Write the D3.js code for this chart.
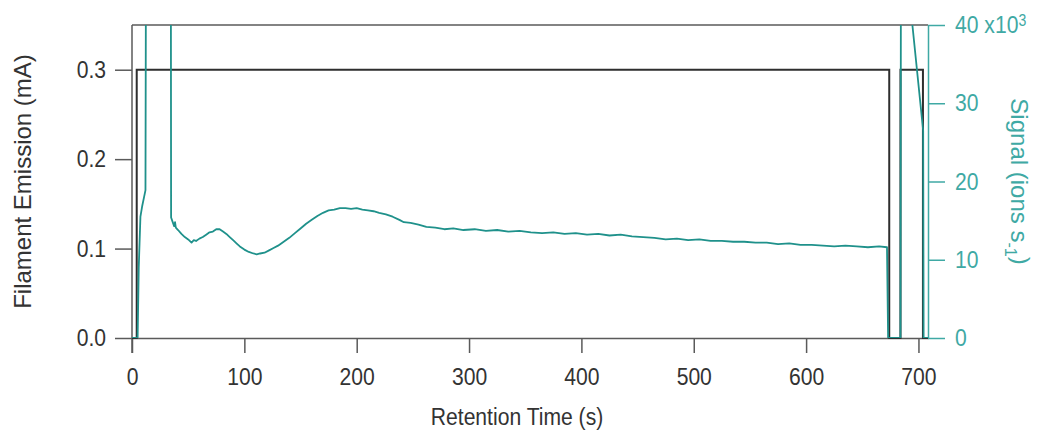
<!DOCTYPE html>
<html>
<head>
<meta charset="utf-8">
<script src="https://cdn.jsdelivr.net/npm/d3@7"></script>
<style>
  body { margin: 0; background: #fff; }
  text { font-family: "Liberation Sans", Arial, sans-serif; }
</style>
</head>
<body>
<div id="chart-area"></div>
<script>
// Filament emission (mA) step trace
const emitTime = [0, 4.2, 4.2, 674, 674, 684, 684, 704, 704, 708.5]
const emitValue = [0, 0, 0.3, 0.3, 0, 0, 0.3, 0.3, 0, 0]

// Signal trace (x10^3 ions/s), values above 40 run off the top
const sigTime = [0, 5, 6, 7.5, 9, 11, 12, 12.6, 34.5, 34.8, 36, 37.5, 38.3, 39, 41, 44, 47, 50, 53, 55, 57,
  60, 63, 66, 69, 72, 75, 78, 81, 84, 87, 90, 93, 96, 100, 104, 108, 111, 114, 118, 122, 126, 130,
  135, 140, 145, 150, 155, 160, 165, 170, 175, 180, 185, 190, 195, 200, 205, 210, 215, 220, 226,
  232, 238, 242, 248, 255, 262, 270, 278, 286, 295, 305, 315, 325, 335, 345, 355, 365, 375, 385,
  395, 405, 415, 425, 435, 445, 455, 465, 475, 485, 495, 505, 515, 525, 535, 545, 555, 565, 575,
  585, 595, 605, 615, 625, 635, 645, 655, 665, 672, 673, 684, 684.5, 690, 694.6, 704.2, 704.6, 708.5]
const sigValue = [0, 0, 9, 15.5, 16.8, 18.2, 18.9, 60, 60, 15.4, 14.9, 14.3, 14.8, 14.1, 13.8, 13.3, 12.9, 12.6, 12.2, 12.5, 12.4,
  12.7, 12.9, 13.2, 13.5, 13.6, 13.9, 13.9, 13.6, 13.3, 12.9, 12.5, 12.1, 11.7, 11.3, 11.0, 10.8, 10.7, 10.8, 10.9, 11.2, 11.5, 11.8,
  12.3, 12.8, 13.4, 14.0, 14.6, 15.1, 15.6, 16.0, 16.3, 16.4, 16.6, 16.6, 16.5, 16.6, 16.4, 16.3, 16.2, 16.0, 15.8,
  15.5, 15.1, 14.8, 14.7, 14.5, 14.2, 14.1, 13.9, 14.0, 13.8, 13.9, 13.7, 13.8, 13.6, 13.7, 13.5, 13.4, 13.5, 13.3,
  13.4, 13.2, 13.3, 13.1, 13.2, 13.0, 12.9, 12.8, 12.6, 12.7, 12.5, 12.6, 12.4, 12.4, 12.3, 12.3, 12.2, 12.2, 12.0,
  12.1, 11.9, 11.9, 11.8, 11.7, 11.8, 11.7, 11.6, 11.7, 11.6, 0, 0, 60, 46, 40, 26.5, 0, 0]

const xTicks = [0, 100, 200, 300, 400, 500, 600, 700]
const leftTicks = [0, 0.1, 0.2, 0.3]
const rightTicks = [0, 10, 20, 30, 40]

const W = 1040
const H = 431
const MARGIN = { LEFT: 132, RIGHT: 112, TOP: 25, BOTTOM: 93 }
const WIDTH = W - MARGIN.LEFT - MARGIN.RIGHT
const HEIGHT = H - MARGIN.TOP - MARGIN.BOTTOM
const FONT = 24
const SQUEEZE = 0.88   // reference text is narrow

const AXIS = "#5a5a5a"
const TEAL = "#3fa9a4"
const TEAL_LINE = "#1f918b"
const DARK = "#2e2e2e"

const svg = d3.select("#chart-area").append("svg")
  .attr("width", W)
  .attr("height", H)
const g = svg.append("g")
  .attr("transform", `translate(${MARGIN.LEFT}, ${MARGIN.TOP})`)

// Scales
const x = d3.scaleLinear().domain([0, 708.5]).range([0, WIDTH])
const yLeft = d3.scaleLinear().domain([0, 0.35]).range([HEIGHT, 0])
const yRight = d3.scaleLinear().domain([0, 40]).range([HEIGHT, 0])

g.append("clipPath").attr("id", "plot-clip")
  .append("rect")
  .attr("width", WIDTH)
  .attr("height", HEIGHT)

// top frame
g.append("line")
  .attr("x1", 0).attr("x2", WIDTH)
  .attr("y1", 0).attr("y2", 0)
  .attr("stroke", AXIS)
  .attr("stroke-width", 1.5)

// X Axis
const xAxis = g.append("g")
  .attr("transform", `translate(0, ${HEIGHT})`)
  .call(d3.axisBottom(x)
    .tickValues(xTicks)
    .tickSize(15)
    .tickSizeOuter(0)
    .tickPadding(15))

// Left Y Axis
const yAxis = g.append("g")
  .call(d3.axisLeft(yLeft)
    .tickValues(leftTicks)
    .tickFormat(d3.format(".1f"))
    .tickSize(17)
    .tickSizeOuter(0)
    .tickPadding(9))

// Right Y Axis
const y2Axis = g.append("g")
  .attr("transform", `translate(${WIDTH}, 0)`)
  .call(d3.axisRight(yRight)
    .tickValues(rightTicks)
    .tickSize(17)
    .tickSizeOuter(0)
    .tickPadding(10))

function squeezeText(sel) {
  sel.attr("font-size", FONT + "px")
    .style("font-family", "'Liberation Sans', Arial, sans-serif")
    .attr("x", function() { return (+d3.select(this).attr("x") || 0) / SQUEEZE })
    .attr("transform", `scale(${SQUEEZE}, 1)`)
}

// style axes
;[xAxis, yAxis].forEach(a => {
  a.selectAll("path, line").attr("stroke", AXIS).attr("stroke-width", 1.5)
  a.selectAll("text").attr("fill", "#333").call(squeezeText)
})
yAxis.select(".domain").attr("d", `M0,0V${HEIGHT + 15}`)
y2Axis.selectAll("path, line").attr("stroke", TEAL).attr("stroke-width", 1.5)
y2Axis.selectAll("text").attr("fill", TEAL).call(squeezeText)
y2Axis.selectAll(".tick").filter(d => d === 40).select("text")
  .text("40 x10")
  .append("tspan")
  .attr("dy", "-0.45em")
  .attr("font-size", "16px")
  .text("3")

// Lines
const emitLine = d3.line()
  .x((d, i) => x(emitTime[i]))
  .y(d => yLeft(d))
g.append("path")
  .datum(emitValue)
  .attr("d", emitLine)
  .attr("fill", "none")
  .attr("stroke", DARK)
  .attr("stroke-width", 2)

const sigLine = d3.line()
  .x((d, i) => x(sigTime[i]))
  .y(d => yRight(d))
g.append("path")
  .datum(sigValue)
  .attr("clip-path", "url(#plot-clip)")
  .attr("d", sigLine)
  .attr("fill", "none")
  .attr("stroke", TEAL_LINE)
  .attr("stroke-width", 1.8)
  .attr("stroke-linejoin", "round")

// Labels
svg.append("text")
  .attr("transform", `translate(517, 425) scale(${SQUEEZE}, 1)`)
  .attr("font-size", FONT + "px")
  .attr("fill", "#333")
  .attr("text-anchor", "middle")
  .text("Retention Time (s)")

svg.append("text")
  .attr("transform", `translate(31, ${MARGIN.TOP + HEIGHT / 2}) rotate(-90)`)
  .attr("font-size", FONT + "px")
  .attr("fill", "#333")
  .attr("text-anchor", "middle")
  .text("Filament Emission (mA)")

const sigLabel = svg.append("text")
  .attr("transform", `translate(1011, ${MARGIN.TOP + HEIGHT / 2}) rotate(90)`)
  .attr("font-size", FONT + "px")
  .attr("fill", TEAL)
  .attr("text-anchor", "middle")
sigLabel.append("tspan").text("Signal (ions s")
sigLabel.append("tspan").attr("dy", "0.35em").attr("font-size", "16px").text("-1")
sigLabel.append("tspan").attr("dy", "-0.3em").text(")")
</script>
</body>
</html>
